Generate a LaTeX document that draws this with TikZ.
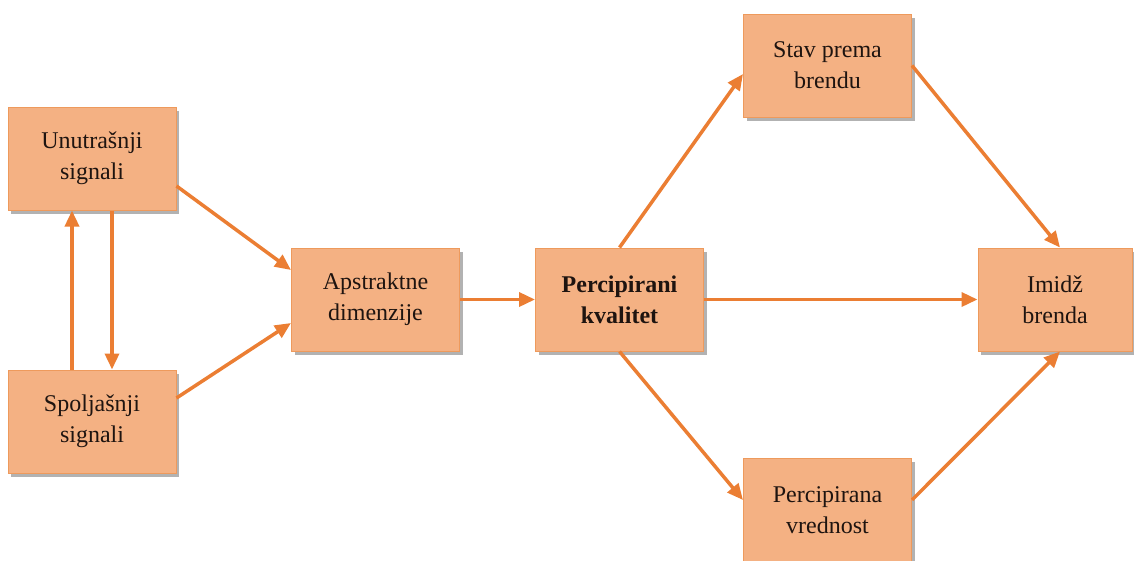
\documentclass[tikz,border=0pt]{standalone}
\usepackage{fontspec}
\setmainfont{Liberation Serif}
\usetikzlibrary{arrows.meta,shadows,calc}
\definecolor{boxfill}{HTML}{F4B183}
\definecolor{boxline}{HTML}{EE9A5C}
\definecolor{arrowc}{HTML}{EB7E33}
\definecolor{txt}{HTML}{1E1410}
\tikzset{
  box/.style={draw=boxline, line width=1pt, fill=boxfill,
    minimum width=168pt, minimum height=103pt, align=center,
    text=txt, font=\fontsize{24}{31}\selectfont,
    drop shadow={shadow xshift=3pt, shadow yshift=-3.5pt, fill=black, opacity=0.3}},
  link/.style={draw=arrowc, line width=3.5pt,
    -{Triangle[length=16pt,width=14pt]}}
}
\begin{document}
\begin{tikzpicture}[x=1pt,y=-1pt]
\useasboundingbox (0,0) rectangle (1134,560);
\node[box] (u) at (92,158.5) {Unutrašnji\\signali};
\node[box] (s) at (92,421.5) {Spoljašnji\\signali};
\node[box] (a) at (375.5,299.5) {Apstraktne\\dimenzije};
\node[box, font=\fontsize{24}{31}\selectfont\bfseries] (p) at (619.5,299.5) {Percipirani\\kvalitet};
\node[box] (st) at (827.5,65.5) {Stav prema\\brendu};
\node[box, minimum width=154pt] (im) at (1055,299.5) {Imidž\\brenda};
\node[box] (v) at (827.5,510) {Percipirana\\vrednost};

\draw[link] ($(u.east)+(0,27.5)$) -- ($(a.west)+(0,-29.5)$);
\draw[link] ($(s.east)+(0,-23.5)$) -- ($(a.west)+(0,23.5)$);
\draw[link] ($(s.north)+(-20,0)$) -- ($(u.south)+(-20,0)$);
\draw[link] ($(u.south)+(20,0)$) -- ($(s.north)+(20,0)$);
\draw[link] (a.east) -- (p.west);
\draw[link] (p.north) -- ($(st.west)+(0,8.5)$);
\draw[link] (p.east) -- (im.west);
\draw[link] (p.south) -- ($(v.west)+(0,-10)$);
\draw[link] (st.east) -- ($(im.north)+(5,0)$);
\draw[link] ($(v.east)+(0,-10)$) -- ($(im.south)+(5,0)$);
\end{tikzpicture}
\end{document}
